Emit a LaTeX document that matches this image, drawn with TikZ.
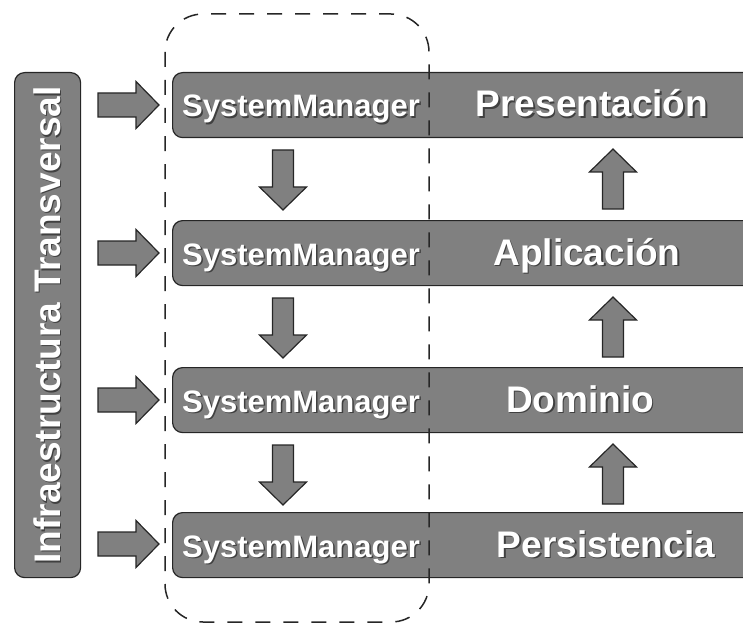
\documentclass[tikz,border=0pt]{standalone}
\usepackage{fontspec}
\setmainfont{Liberation Sans}
\usetikzlibrary{calc}

% block arrows: (centre x, top y) for down/up, (left x, centre y) for right
\def\blockdown(#1,#2){\draw[blockarrow] (#1-10.5,#2) -- (#1+10.5,#2) -- (#1+10.5,#2+37) -- (#1+23.5,#2+37) -- (#1,#2+60) -- (#1-23.5,#2+37) -- (#1-10.5,#2+37) -- cycle;}
\def\blockup(#1,#2){\draw[blockarrow] (#1,#2) -- (#1+23.5,#2+23) -- (#1+10.5,#2+23) -- (#1+10.5,#2+60) -- (#1-10.5,#2+60) -- (#1-10.5,#2+23) -- (#1-23.5,#2+23) -- cycle;}
\def\blockright(#1,#2){\draw[blockarrow] (#1,#2-12) -- (#1+38,#2-12) -- (#1+38,#2-23.5) -- (#1+61,#2) -- (#1+38,#2+23.5) -- (#1+38,#2+12) -- (#1,#2+12) -- cycle;}

% white bold text with a dark drop shadow
\newcommand\shadowtext[4]{%
  \node[#2, text=black!75] (#1-sh) at ($(#3)+(1.5,1.5)$) {#4};
  \node[#2, text=white] (#1) at (#3) {#4};}

\tikzset{
  layerbar/.style={draw=black!85, line width=1.2bp, fill=black!50, rounded corners=10bp,
    minimum height=65bp, minimum width=620bp, anchor=north west, inner sep=0pt},
  blockarrow/.style={draw=black!85, line width=1.2bp, fill=black!50, line join=miter},
  smlabel/.style={font=\bfseries\fontsize{31bp}{36bp}\selectfont, anchor=base, inner sep=0pt},
  layerlabel/.style={font=\bfseries\fontsize{37bp}{44bp}\selectfont, anchor=base, inner sep=0pt},
  groupbox/.style={draw=black!85, line width=1.5bp, dash pattern=on 15bp off 13bp, rounded corners=38bp},
}

\begin{document}
\begin{tikzpicture}[x=1bp, y=-1bp]
  \useasboundingbox (0,0) rectangle (743,624);
  \clip (0,0) rectangle (743,624);

  %%%%% transversal column %%%%%
  \node[layerbar, minimum width=66bp, minimum height=505bp] (infra) at (14,72) {};
  \shadowtext{infralbl}{layerlabel, rotate=90}{60,325}{Infraestructura Transversal}

  %%%%% layers %%%%%
  \node[layerbar] (pres) at (172,72) {};
  \node[layerbar] (apli) at (172,220) {};
  \node[layerbar] (domi) at (172,367) {};
  \node[layerbar] (pers) at (172,512) {};

  \shadowtext{sm1}{smlabel}{301,117}{SystemManager}
  \shadowtext{sm2}{smlabel}{301,265}{SystemManager}
  \shadowtext{sm3}{smlabel}{301,412}{SystemManager}
  \shadowtext{sm4}{smlabel}{301,557}{SystemManager}

  \shadowtext{preslbl}{layerlabel}{592,117}{Presentación}
  \shadowtext{aplilbl}{layerlabel}{587,265}{Aplicación}
  \shadowtext{domilbl}{layerlabel}{580,412}{Dominio}
  \shadowtext{perslbl}{layerlabel}{606,557}{Persistencia}

  %%%%% arrows %%%%%
  \blockright(98,105)
  \blockright(98,253)
  \blockright(98,400)
  \blockright(98,544)

  \blockdown(283,150)
  \blockdown(283,298)
  \blockdown(283,445)

  \blockup(613,149)
  \blockup(613,297)
  \blockup(613,444)

  %%%%% SystemManager group %%%%%
  \draw[groupbox] (165,14) rectangle (429,622);
\end{tikzpicture}
\end{document}
